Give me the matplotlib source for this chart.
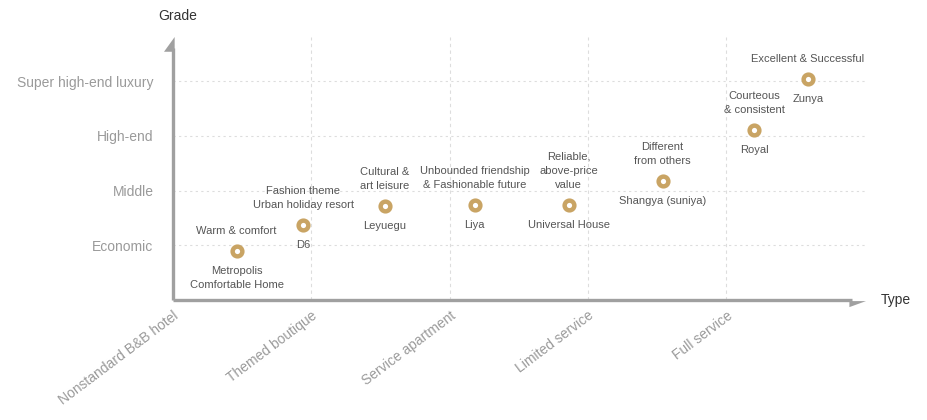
import matplotlib.pyplot as plt

plt.rcParams["font.family"] = ["Liberation Sans", "DejaVu Sans"]

# hotel types on the x axis, grades on the y axis
types = ["Nonstandard B&B hotel", "Themed boutique", "Service apartment",
         "Limited service", "Full service"]
grades = ["Economic", "Middle", "High-end", "Super high-end luxury"]

brands = ["Metropolis\nComfortable Home", "D6", "Leyuegu", "Liya",
          "Universal House", "Shangya (suniya)", "Royal", "Zunya"]
slogans = ["Warm & comfort", "Fashion theme\nUrban holiday resort",
           "Cultural &\nart leisure", "Unbounded friendship\n& Fashionable future",
           "Reliable,\nabove-price\nvalue", "Different\nfrom others",
           "Courteous\n& consistent", "Excellent & Successful"]
type_pos = [0.46, 0.94, 1.53, 2.18, 2.86, 3.54, 4.20, 4.59]
grade_pos = [0.90, 1.37, 1.72, 1.74, 1.74, 2.18, 3.11, 4.04]

GOLD = "#c9a464"
AXIS = "#a0a0a0"
XMAX, YMAX = 5.01, 4.81

fig = plt.figure(figsize=(9.28, 4.2), dpi=100)
ax = fig.add_axes([173 / 928, 120 / 420, (866 - 173) / 928, (300 - 37) / 420])
ax.set_xlim(0, XMAX)
ax.set_ylim(0, YMAX)
for s in ax.spines.values():
    s.set_visible(False)

# dashed grid
for gx in range(1, len(types)):
    ax.plot([gx, gx], [0, YMAX], color="#dddddd", lw=0.8, ls=(0, (3, 3)), zorder=1)
for gy in range(1, len(grades) + 1):
    ax.plot([0, XMAX], [gy, gy], color="#dddddd", lw=0.8, ls=(0, (2, 3)), zorder=1)

# axis lines with half arrowheads
ax.plot([0, 0], [0, YMAX - 0.2], color=AXIS, lw=2.4, clip_on=False, solid_capstyle="butt", zorder=2)
ax.plot([0, XMAX - 0.1], [0, 0], color=AXIS, lw=2.4, clip_on=False, solid_capstyle="butt", zorder=2)
ax.fill([0.012, -0.065, 0.012], [YMAX, YMAX - 0.27, YMAX - 0.27], color=AXIS, clip_on=False, lw=0)
ax.fill([XMAX, XMAX - 0.12, XMAX - 0.12], [-0.02, -0.13, -0.02], color=AXIS, clip_on=False, lw=0)

ax.set_xticks(range(len(types)))
ax.set_xticklabels(types, rotation=37, ha="right", va="top", rotation_mode="anchor",
                   fontsize=10, color="#9a9a9a")
ax.set_yticks(range(1, len(grades) + 1))
ax.set_yticklabels(grades, fontsize=10, color="#9a9a9a")
ax.tick_params(axis="x", length=0, pad=6)
ax.tick_params(axis="y", length=0, pad=14)

fig.text(178 / 928, 1 - 16 / 420, "Grade", ha="center", va="center", fontsize=10, color="#333333")
fig.text(881 / 928, 1 - 300 / 420, "Type", ha="left", va="center", fontsize=10, color="#333333")

ax.plot(type_pos, grade_pos, "o", ms=7, mfc="white", mec=GOLD, mew=3.2, ls="none",
        clip_on=False, zorder=3)

for x, y, name, slogan in zip(type_pos, grade_pos, brands, slogans):
    ax.annotate(slogan, (x, y), xytext=(0, 15), textcoords="offset pixels",
                ha="center", va="bottom", fontsize=8, color="#555555", linespacing=1.5)
    ax.annotate(name, (x, y), xytext=(0, -15), textcoords="offset pixels",
                ha="center", va="top", fontsize=8, color="#555555", linespacing=1.5)

fig.savefig("out.png", dpi=100)
